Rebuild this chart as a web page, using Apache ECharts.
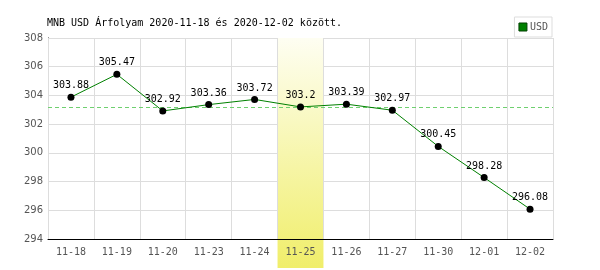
<!DOCTYPE html>
<html><head><meta charset="utf-8">
<script src="https://cdn.jsdelivr.net/npm/echarts@6/dist/echarts.min.js"></script>
<style>html,body{margin:0;padding:0;background:#fff}#c{width:600px;height:270px}</style>
</head><body><div id="c"></div>
<script>
const categories = ['11-18','11-19','11-20','11-23','11-24','11-25','11-26','11-27','11-30','12-01','12-02'];
const usdValues = [303.88,305.47,302.92,303.36,303.72,303.2,303.39,302.97,300.45,298.28,296.08];
const highlightBand = [null,null,null,null,null,1,null,null,null,null,null];
const referenceLevel = 303.2;
const yTicks = {min:294, max:308, interval:2};
const titleText = 'MNB USD Árfolyam 2020-11-18 és 2020-12-02 között.';

const chart = echarts.init(document.getElementById('c'), null, {renderer:'canvas'});
const mono = 'DejaVu Sans Mono';
chart.setOption({
  animation:false,
  backgroundColor:'#fff',
  title:{text:titleText,left:42,top:13,textStyle:{fontFamily:mono,fontSize:10,fontWeight:'normal',color:'#000'}},
  legend:{right:48,top:17,itemWidth:8,itemHeight:8,padding:[5,4,5,4],itemGap:4,borderColor:'#ddd',borderWidth:1,
    icon:'rect',data:[{name:'USD',itemStyle:{color:'#008000',borderColor:'#004000',borderWidth:1}}],
    textStyle:{fontFamily:mono,fontSize:10,color:'#555',padding:[0,0,0,-2]}},
  grid:[{left:48,right:47,top:38,bottom:31},{left:48,right:47,top:38,bottom:2}],
  xAxis:[
    {type:'category',gridIndex:0,data:categories,boundaryGap:true,z:3,
     axisLine:{lineStyle:{color:'#000',width:1}},axisTick:{show:false},
     axisLabel:{fontFamily:mono,fontSize:10,color:'#555',margin:8},
     splitLine:{show:true,lineStyle:{color:'#ddd'}}},
    {type:'category',gridIndex:1,data:categories,show:false}
  ],
  yAxis:[
    {type:'value',gridIndex:0,min:yTicks.min,max:yTicks.max,interval:yTicks.interval,z:0,
     axisLine:{show:true,lineStyle:{color:'#000'}},axisTick:{show:false},
     axisLabel:{fontFamily:'DejaVu Sans',fontSize:10,color:'#555',margin:5},
     splitLine:{lineStyle:{color:'#ddd'}}},
    {type:'value',gridIndex:1,min:0,max:1,show:false}
  ],
  series:[
    {type:'bar',xAxisIndex:1,yAxisIndex:1,data:highlightBand,barWidth:'100%',z:1,silent:true,
     itemStyle:{color:new echarts.graphic.LinearGradient(0,0,0,1,[{offset:0,color:'#fefef2'},{offset:1,color:'#f0ee6a'}])}},
    {name:'USD',type:'line',data:usdValues,z:5,
     lineStyle:{color:'#008000',width:1},
     itemStyle:{color:'#000'},symbol:'circle',symbolSize:7,
     label:{show:true,position:'top',distance:3,fontFamily:mono,fontSize:10,color:'#000'},
     markLine:{silent:true,symbol:['none','none'],label:{show:false},
       lineStyle:{color:'#6fd06f',type:[4,3],width:1,opacity:1},
       data:[{yAxis:referenceLevel}]}}
  ]
});
</script></body></html>
